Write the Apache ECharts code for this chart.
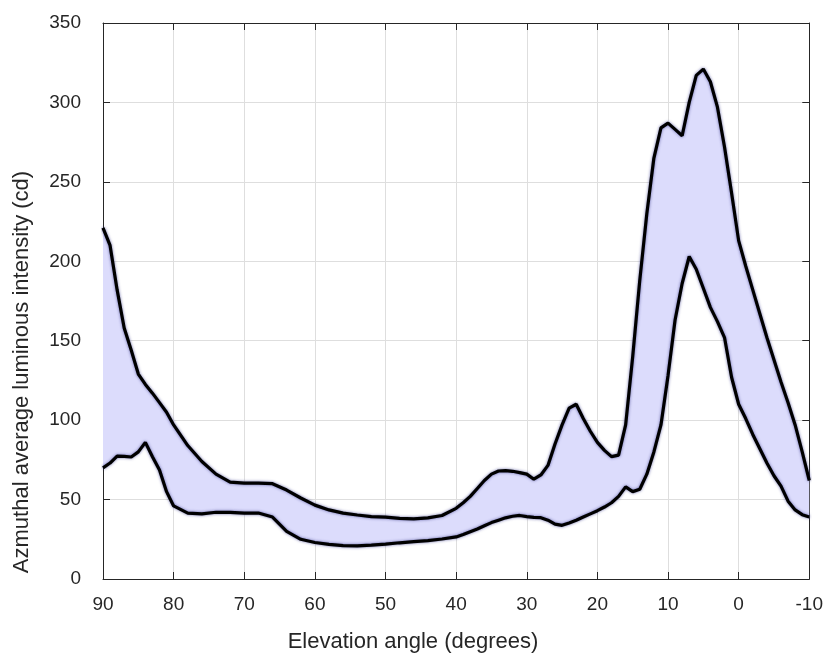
<!DOCTYPE html>
<html>
<head>
<meta charset="utf-8">
<script src="https://cdn.jsdelivr.net/npm/echarts@6/dist/echarts.min.js"></script>
<style>
  html, body { margin: 0; padding: 0; background: #fff; }
  #chart { width: 826px; height: 658px; }
</style>
</head>
<body>
<div id="chart"></div>
<script>
// elevation angle (deg), same grid for both curves
var elevation = [
  90, 89, 88, 87, 86, 85, 84, 83, 82, 81, 80,
  78, 76, 74, 72, 70, 68, 66, 64, 62, 60, 58, 56, 54, 52, 50, 48, 46, 44, 42,
  40, 39, 38, 37, 36, 35, 34, 33, 32, 31, 30, 29, 28, 27, 26, 25, 24, 23, 22, 21,
  20, 19, 18, 17, 16, 15, 14, 13, 12, 11, 10, 9, 8, 7, 6, 5, 4, 3, 2, 1,
  0, -1, -2, -3, -4, -5, -6, -7, -8, -9, -10
];
// upper envelope (cd)
var upperIntensity = [
  221, 210, 182, 158, 144, 129, 122.5, 117, 111, 105, 97,
  84, 74, 66, 61, 60.4, 60.4, 60, 56, 51, 46.5, 43.5, 41.5, 40.3, 39.3, 39, 38.2, 37.8, 38.5, 40,
  44.5, 48, 52, 57, 62, 66, 68, 68.2, 67.8, 67, 66, 62.8, 65.5, 71.5, 85, 97, 107.5, 110, 101, 93,
  86, 81, 77, 78, 97, 140, 188, 230, 265, 284, 287, 283, 279, 300, 317, 321, 313, 297, 272, 243,
  213, 197, 182, 167, 152, 138, 124, 111, 97, 80, 62
];
// lower envelope (cd)
var lowerIntensity = [
  70, 73, 77.4, 77.2, 76.8, 80, 86, 77, 68.6, 55, 46,
  41.5, 41, 42, 42, 41.5, 41.5, 39, 30, 25, 23, 21.8, 21, 20.8, 21.3, 22, 22.8, 23.5, 24.2, 25.2,
  26.5, 28, 29.8, 31.5, 33.5, 35.5, 37, 38.5, 39.5, 40, 39.3, 38.8, 38.6, 37, 34.5, 33.8, 35.3, 37, 39, 41,
  43, 45.3, 48, 52, 58, 55, 56.5, 66, 80, 97, 128, 163, 186, 203, 195, 183, 171, 162, 152, 127,
  110, 101, 91, 82, 73, 65, 58.5, 49, 43.5, 40.5, 39
];

var lowerPts = elevation.map(function (e, i) { return [e, lowerIntensity[i]]; });
var upperPts = elevation.map(function (e, i) { return [e, upperIntensity[i]]; });

var FONT = 'Liberation Sans, Arial, Helvetica, sans-serif';
var AXIS_COLOR = '#262626';
var lineCurve = {
  color: '#000',
  width: 3.2,
  shadowColor: 'rgba(60,60,140,0.75)',
  shadowBlur: 3
};

var xBase = { type: 'value', min: -10, max: 90, interval: 10, inverse: true };
var yBase = { type: 'value', min: 0, max: 350, interval: 50 };
var frameLine = { show: true, onZero: false, lineStyle: { color: AXIS_COLOR, width: 1 } };
var frameTick = { show: true, inside: true, length: 7, lineStyle: { color: AXIS_COLOR } };
var gridLine = { show: true, lineStyle: { color: '#dedede', width: 1 } };

// band between the two curves, drawn as one polygon through the axis scales
function renderBand(params, api) {
  if (params.dataIndex !== 0) return null;
  var pts = [];
  for (var i = 0; i < elevation.length; i++) {
    pts.push(api.coord([elevation[i], upperIntensity[i]]));
  }
  for (var j = elevation.length - 1; j >= 0; j--) {
    pts.push(api.coord([elevation[j], lowerIntensity[j]]));
  }
  return {
    type: 'polygon',
    shape: { points: pts },
    style: { fill: '#dcdcfc', stroke: null }
  };
}

var option = {
  animation: false,
  backgroundColor: '#fff',
  grid: { left: 103, right: 8, top: 23, bottom: 79 },
  xAxis: [
    Object.assign({}, xBase, {
      position: 'bottom',
      axisLine: frameLine,
      axisTick: frameTick,
      axisLabel: { color: AXIS_COLOR, fontSize: 19, fontFamily: FONT, margin: 16 },
      splitLine: gridLine
    }),
    Object.assign({}, xBase, {
      position: 'top',
      axisLine: frameLine,
      axisTick: frameTick,
      axisLabel: { show: false },
      splitLine: { show: false }
    })
  ],
  yAxis: [
    Object.assign({}, yBase, {
      position: 'left',
      axisLine: frameLine,
      axisTick: frameTick,
      axisLabel: { color: AXIS_COLOR, fontSize: 19, fontFamily: FONT, margin: 22 },
      splitLine: gridLine
    }),
    Object.assign({}, yBase, {
      position: 'right',
      axisLine: frameLine,
      axisTick: frameTick,
      axisLabel: { show: false },
      splitLine: { show: false }
    })
  ],
  graphic: [
    {
      type: 'text', left: 'center', top: 631,
      style: { text: 'Elevation angle (degrees)', fontSize: 22, fontFamily: FONT, fill: AXIS_COLOR }
    },
    {
      type: 'text', x: 22, y: 372, rotation: Math.PI / 2,
      style: {
        text: 'Azmuthal average luminous intensity (cd)', fontSize: 22, fontFamily: FONT,
        fill: AXIS_COLOR, align: 'center', verticalAlign: 'middle'
      }
    }
  ],
  series: [
    {
      name: 'band', type: 'custom', data: lowerPts, renderItem: renderBand,
      encode: { x: 0, y: 1 }, silent: true, z: 1
    },
    {
      name: 'lower', type: 'line', data: lowerPts, symbol: 'none',
      lineStyle: lineCurve, z: 3
    },
    {
      name: 'upper', type: 'line', data: upperPts, symbol: 'none',
      lineStyle: lineCurve, z: 3
    }
  ]
};

echarts.init(document.getElementById('chart')).setOption(option);
</script>
</body>
</html>
